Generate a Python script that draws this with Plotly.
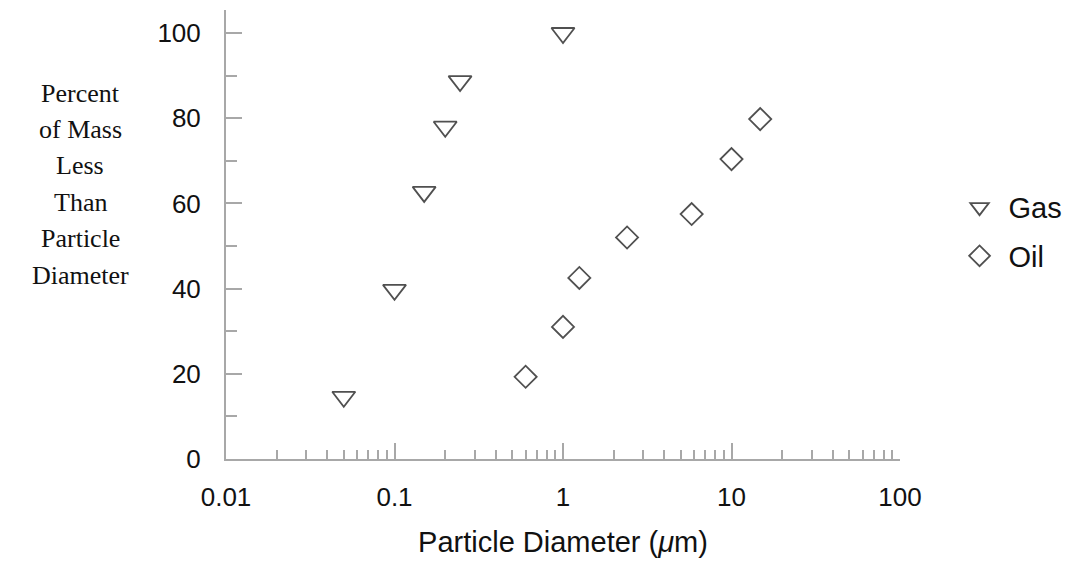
import plotly.graph_objects as go

gas_x = [0.05, 0.1, 0.15, 0.2, 0.245, 1.0]
gas_y = [14.6, 39.7, 62.7, 78.0, 88.7, 100.0]
oil_x = [0.6, 1.0, 1.25, 2.4, 5.8, 10.0, 14.8]
oil_y = [19.3, 31.0, 42.5, 52.0, 57.5, 70.4, 79.8]

x_major = [0.01, 0.1, 1, 10, 100]
x_major_text = ["0.01", "0.1", "1", "10", "100"]
y_major = [0, 20, 40, 60, 80, 100]
y_minor = [10, 30, 50, 70, 90]
x_minor = [m * d for d in [0.01, 0.1, 1, 10] for m in range(2, 10)]

y_title_lines = ["Percent", "of Mass", "Less", "Than", "Particle", "Diameter"]

axis_col = "#a8a8a8"
mark_col = "#505050"

fig = go.Figure()
fig.add_trace(go.Scatter(x=gas_x, y=gas_y, mode="markers", name="Gas", legendgroup="g",
                         marker=dict(symbol="triangle-down-open", size=20,
                                     color=mark_col, line=dict(width=1.8, color=mark_col))))
fig.add_trace(go.Scatter(x=oil_x, y=oil_y, mode="markers", name="Oil", legendgroup="o",
                         marker=dict(symbol="diamond-open", size=17,
                                     color=mark_col, line=dict(width=1.8, color=mark_col))))

fig.update_layout(
    width=1071, height=567,
    margin=dict(l=226, r=171, t=10, b=108, autoexpand=False),
    paper_bgcolor="white", plot_bgcolor="white",
    font=dict(family="Liberation Sans, Arial", size=26, color="#111"),
    showlegend=True,
    legend=dict(x=1.075, y=0.506, xanchor="left", yanchor="middle",
                font=dict(size=29, family="Liberation Sans, Arial"),
                itemsizing="trace", itemwidth=48, tracegroupgap=8),
    xaxis=dict(type="log", range=[-2, 2], tickvals=x_major, ticktext=x_major_text,
               automargin=False,
               ticks="inside", ticklen=16, tickwidth=1.5, tickcolor=axis_col,
               showline=True, linecolor=axis_col, linewidth=2,
               showgrid=False, zeroline=False, ticklabelstandoff=14,
               tickfont=dict(size=26),
               minor=dict(tickvals=x_minor, ticks="inside", ticklen=9, tickwidth=1.5,
                          tickcolor=axis_col, showgrid=False),
               title=dict(text="Particle Diameter (<i>μ</i>m)", font=dict(size=29), standoff=20)),
    yaxis=dict(range=[0, 105.4], tickvals=y_major, automargin=False,
               ticks="inside", ticklen=16, tickwidth=1.5, tickcolor=axis_col,
               showline=True, linecolor=axis_col, linewidth=2,
               showgrid=False, zeroline=False, ticklabelstandoff=18,
               tickfont=dict(size=26),
               minor=dict(tickvals=y_minor, ticks="inside", ticklen=11, tickwidth=1.5,
                          tickcolor=axis_col, showgrid=False)),
)

plot_top, plot_h = 10, 449
for i, line in enumerate(y_title_lines):
    py = 93 + i * 36.4
    fig.add_annotation(
        text=line, xref="paper", yref="paper",
        x=(80 - 226) / 674, y=(plot_top + plot_h - py) / plot_h,
        xanchor="center", yanchor="middle", showarrow=False,
        font=dict(family="Liberation Serif, Times New Roman", size=26, color="#111"),
    )

fig.write_html("out.html")
